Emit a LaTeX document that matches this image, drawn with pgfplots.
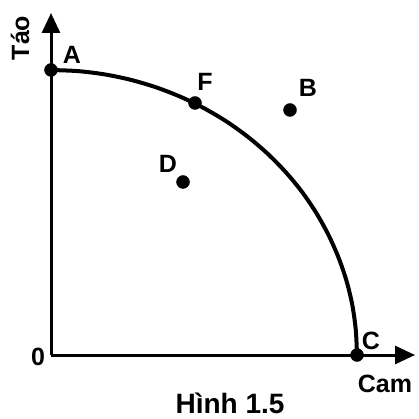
\documentclass[border=0pt]{standalone}
\usepackage{pgfplots}
\pgfplotsset{compat=1.18}
\usepackage{fontspec}
\setmainfont{Liberation Sans}
\usetikzlibrary{arrows.meta}
\tikzset{lbl/.style={font=\bfseries\fontsize{25}{25}\selectfont, inner sep=0pt}}
\begin{document}
\begin{tikzpicture}
\begin{axis}[
 scale only axis, width=364pt, height=342pt,
 xmin=0,xmax=364,ymin=0,ymax=342,
 axis lines=left,
 axis line style={line width=3pt, -{Triangle[length=20pt,width=18pt]}},
 xtick=\empty, ytick=\empty,
 clip=false, enlargelimits=false,
]
\path (axis cs:-51,-64) rectangle (axis cs:367,355);
\addplot[line width=4pt, smooth, mark=none] coordinates {
(0,285)(26.7,283.9)(53.1,280.7)(79.2,275.3)(104.7,267.8)(129.3,258.3)(153.0,246.8)
(175.5,233.5)(196.7,218.3)(216.4,201.5)(234.4,183.2)(250.7,163.5)(265.0,142.5)
(277.3,120.4)(287.5,97.5)(295.6,73.8)(301.4,49.5)(304.8,24.8)(306,0)};
\addplot[only marks, mark=*, mark size=6.5pt, black] coordinates {(0,285)(144,252)(239,245)(132,173)(306,0)};
\node[lbl] at (axis cs:21,300) {A};
\node[lbl] at (axis cs:154,273) {F};
\node[lbl] at (axis cs:257,267) {B};
\node[lbl] at (axis cs:117,191) {D};
\node[lbl] at (axis cs:320,14) {C};
\node[lbl] at (axis cs:-13,-2) {0};
\node[lbl] at (axis cs:334,-29) {Cam};
\node[lbl, font=\bfseries\fontsize{28}{28}\selectfont] at (axis cs:179,-48) {Hình 1.5};
\node[lbl, rotate=90] at (axis cs:-31,317) {Táo};
\end{axis}
\end{tikzpicture}
\end{document}
